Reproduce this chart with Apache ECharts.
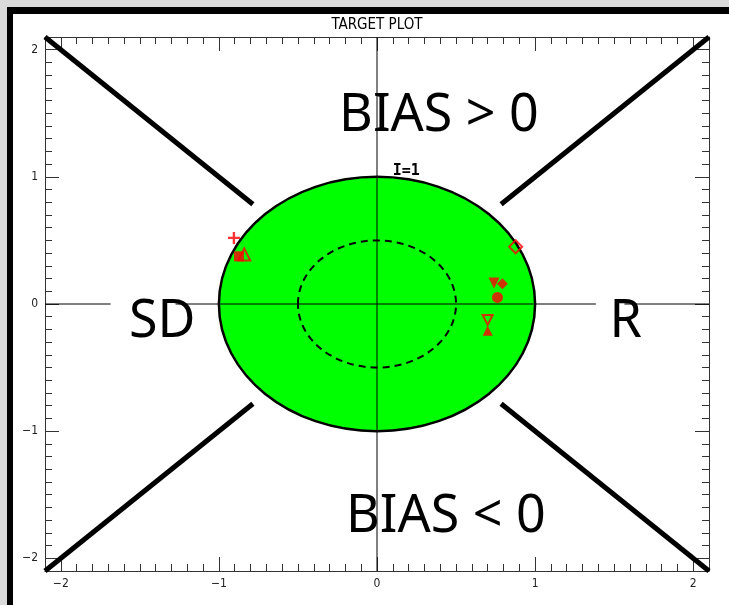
<!DOCTYPE html>
<html>
<head>
<meta charset="utf-8">
<script src="https://cdn.jsdelivr.net/npm/echarts@6/dist/echarts.min.js"></script>
<style>
  html, body { margin:0; padding:0; width:729px; height:605px; background:#dadada; overflow:hidden; }
  #frame { position:absolute; left:7px; top:7px; width:716px; height:592px; background:#fff; border-left:6px solid #000; border-top:7px solid #000; }
  #chart { position:absolute; left:0; top:0; width:729px; height:605px; }
</style>
</head>
<body>
<div id="frame"></div>
<div id="chart"></div>
<script>
// ---- data ----
const titleText = 'TARGET PLOT';
const xMajor = [-2, -1, 0, 1, 2];
const yMajor = [-2, -1, 0, 1, 2];
const axisRange = [-2.1, 2.1];
const outerRadius = [1.0];
const innerRadius = [0.5];
// zero line along x is interrupted behind the SD and R labels
const hLineSegs = [[-2.1, -1.685], [-1.274, 1.384], [1.565, 2.1]];
const vLine = [[0, -2.1], [0, 2.1]];
const diagTL = [[-2.1, 2.1], [-0.785, 0.785]];
const diagTR = [[2.1, 2.1], [0.785, 0.785]];
const diagBL = [[-2.1, -2.1], [-0.785, -0.785]];
const diagBR = [[2.1, -2.1], [0.785, -0.785]];
const bigLabels = ['BIAS > 0', 'BIAS < 0', 'SD', 'R'];
const bigLabelPos = [[0.392, 1.477], [0.436, -1.674], [-1.359, -0.141], [1.573, -0.141]];
const smallLabel = ['I=1'];
const smallLabelPos = [[0.10, 0.99]];
// markers
const plusPts = [[-0.905, 0.52]];
const squarePts = [[-0.873, 0.375]];
const triOpenPts = [[-0.84, 0.39]];
const diamondOpenPts = [[0.877, 0.45]];
const triDownFilledPts = [[0.74, 0.165]];
const diamondFilledPts = [[0.793, 0.16]];
const circleFilledPts = [[0.762, 0.052]];
const triDownOpenPts = [[0.70, -0.125]];
const triUpFilledPts = [[0.70, -0.21]];

// minor tick positions (every 0.1, skipping majors)
function minorTicks() {
  const out = [];
  for (let k = -20; k <= 20; k++) { if (k % 10 !== 0) out.push(k / 10); }
  return out;
}
const xMinor = minorTicks();
const yMinor = minorTicks();

const RED = '#ff0000';
const tickFont = "'Liberation Sans Narrow', 'DejaVu Sans Condensed', 'Liberation Sans', sans-serif";
const fmt = v => String(v).replace('-', '\u2212');

function mkAxis(pos, ticks, len, labels, line) {
  return {
    type: 'value', position: pos, offset: 0, min: axisRange[0], max: axisRange[1],
    axisLine: { show: line, onZero: false, lineStyle: { color: '#333', width: 1 } },
    axisTick: { show: true, inside: true, length: len, customValues: ticks, lineStyle: { color: '#333', width: 1 } },
    axisLabel: { show: labels, customValues: ticks, formatter: fmt, fontFamily: tickFont, fontSize: 12, color: '#222', margin: 7 },
    splitLine: { show: false }
  };
}

function ellipseSeries(radii, dashed) {
  return {
    type: 'custom', xAxisIndex: 0, yAxisIndex: 0, z: dashed ? 3 : 1,
    data: radii.map(r => [0, 0, r]),
    renderItem: function (params, api) {
      const c = api.coord([api.value(0), api.value(1)]);
      const s = api.size([api.value(2), api.value(2)], [0, 0]);
      return {
        type: 'ellipse',
        shape: { cx: c[0], cy: c[1], rx: s[0], ry: s[1] },
        style: dashed
          ? { fill: null, stroke: '#000', lineWidth: 2, lineDash: [7, 5] }
          : { fill: '#00ff00', stroke: '#000', lineWidth: 2.5 }
      };
    }
  };
}
function lineSeries(pts, w, z) {
  return { type: 'line', data: pts, showSymbol: false, symbol: 'none', z: z, clip: true,
    lineStyle: { color: '#000', width: w }, silent: true };
}
function textSeries(texts, pos, font, align, vAlign, z) {
  return {
    type: 'custom', xAxisIndex: 0, yAxisIndex: 0, z: z, data: pos,
    renderItem: function (params, api) {
      const p = api.coord([api.value(0), api.value(1)]);
      return { type: 'text', x: p[0], y: p[1],
        style: { text: texts[params.dataIndex], font: font, fill: '#000', align: align, verticalAlign: vAlign } };
    }
  };
}
function markers(pts, symbol, size, filled, rotate) {
  return {
    type: 'scatter', data: pts, symbol: symbol, symbolSize: size, symbolRotate: rotate || 0, z: 10,
    itemStyle: filled ? { color: RED } : { color: 'rgba(0,0,0,0)', borderColor: RED, borderWidth: 2 },
    silent: true
  };
}

const chart = echarts.init(document.getElementById('chart'), null, { renderer: 'canvas' });
chart.setOption({
  animation: false,
  backgroundColor: 'transparent',
  graphic: [{ type: 'text', x: 377, y: 25, style: { text: titleText, font: "15px " + tickFont, fill: '#000', align: 'center', verticalAlign: 'middle' } }],
  grid: { left: 45, right: 20, top: 37, bottom: 34 },
  xAxis: [mkAxis('bottom', xMajor, 14, true, true), mkAxis('bottom', xMinor, 7, false, false), mkAxis('top', xMajor, 14, false, true), mkAxis('top', xMinor, 7, false, false)],
  yAxis: [mkAxis('left', yMajor, 14, true, true), mkAxis('left', yMinor, 7, false, false), mkAxis('right', yMajor, 14, false, true), mkAxis('right', yMinor, 7, false, false)],
  series: [
    ellipseSeries(outerRadius, false),
    ...hLineSegs.map(s => lineSeries([[s[0], 0], [s[1], 0]], 1, 2)),
    lineSeries(vLine, 1, 2),
    ellipseSeries(innerRadius, true),
    lineSeries(diagTL, 5, 4),
    lineSeries(diagTR, 5, 4),
    lineSeries(diagBL, 5, 4),
    lineSeries(diagBR, 5, 4),
    textSeries(bigLabels, bigLabelPos, "52px 'Noto Sans', 'DejaVu Sans', sans-serif", 'center', 'middle', 6),
    textSeries(smallLabel, smallLabelPos, "bold 15px 'DejaVu Sans Mono', monospace", 'left', 'bottom', 6),
    markers(plusPts, 'path://M4,0H6V4H10V6H6V10H4V6H0V4H4Z', 12, true),
    markers(squarePts, 'rect', 10, true),
    markers(triOpenPts, 'triangle', 12, false),
    markers(diamondOpenPts, 'diamond', 13, false),
    markers(triDownFilledPts, 'triangle', 11, true, 180),
    markers(diamondFilledPts, 'diamond', 11, true),
    markers(circleFilledPts, 'circle', 11, true),
    markers(triDownOpenPts, 'triangle', 10, false, 180),
    markers(triUpFilledPts, 'triangle', 10, true)
  ]
});
</script>
</body>
</html>
